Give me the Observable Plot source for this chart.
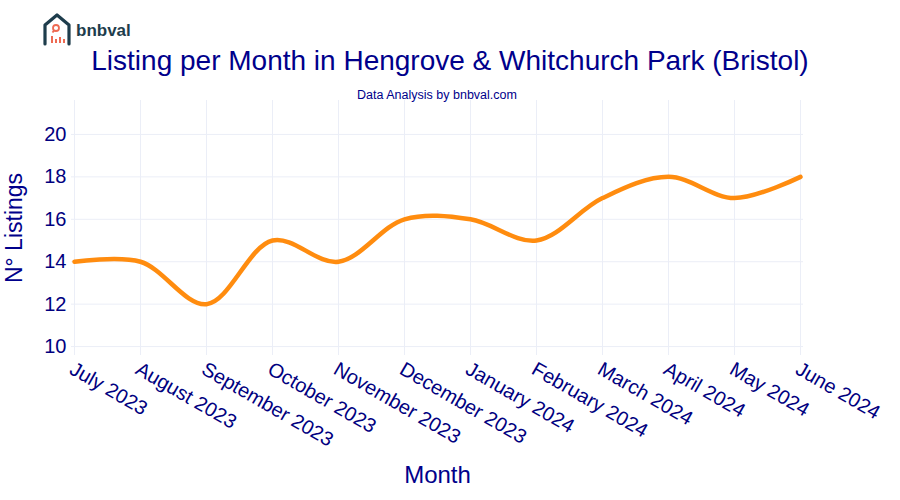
<!DOCTYPE html>
<html>
<head>
<meta charset="utf-8">
<script src="https://cdn.jsdelivr.net/npm/d3@7"></script>
<script src="https://cdn.jsdelivr.net/npm/@observablehq/plot@0.6"></script>
<style>
  body { margin: 0; background: #fff; font-family: "Liberation Sans", Arial, sans-serif; }
  #wrap { position: relative; width: 900px; height: 500px; }
  .abs { position: absolute; white-space: nowrap; color: #00008b; }
</style>
</head>
<body>
<div id="wrap">
  <div id="chart"></div>
  <svg class="abs" style="left:42px;top:12px" width="32" height="34" viewBox="0 0 32 34">
    <path d="M3 32 V13 L15 3 L27 13 V32" fill="none" stroke="#1e3d4c" stroke-width="3.2" stroke-linejoin="round" stroke-linecap="round"/>
    <circle cx="14" cy="16" r="3" fill="none" stroke="#ee6a52" stroke-width="1.8"/>
    <line x1="12" y1="18.5" x2="10.5" y2="20.5" stroke="#ee6a52" stroke-width="1.8"/>
    <rect x="9" y="24" width="2" height="7" fill="#ee6a52"/>
    <rect x="13" y="27" width="2" height="4" fill="#ee6a52"/>
    <rect x="17" y="25" width="2" height="6" fill="#ee6a52"/>
    <rect x="21" y="27" width="2" height="4" fill="#ee6a52"/>
  </svg>
  <div class="abs" style="left:76px;top:21px;font-size:17px;font-weight:bold;color:#1e3d4c;">bnbval</div>
  <div class="abs" style="left:0;width:900px;text-align:center;top:45px;font-size:28px;">Listing per Month in Hengrove &amp; Whitchurch Park (Bristol)</div>
  <div class="abs" style="left:71px;width:732px;text-align:center;top:88px;font-size:12.5px;">Data Analysis by bnbval.com</div>
</div>
<script>
const months = ["July 2023","August 2023","September 2023","October 2023","November 2023","December 2023","January 2024","February 2024","March 2024","April 2024","May 2024","June 2024"];
const listings = [14, 14, 12, 15, 14, 16, 16, 15, 17, 18, 17, 18];
const yTicks = [10, 12, 14, 16, 18, 20];

const data = months.map((m, i) => ({month: m, value: listings[i]}));
const navy = "#000080";
const grid = "#ebeef7";

const chart = Plot.plot({
  width: 900,
  height: 500,
  marginLeft: 71,
  marginRight: 97,
  marginTop: 100,
  marginBottom: 145,
  style: {fontFamily: '"Liberation Sans", Arial, sans-serif', color: navy, background: "transparent"},
  x: {type: "point", domain: months, padding: 0, label: null},
  y: {domain: [9.58, 21.6], label: null},
  marks: [
    Plot.gridX(months, {stroke: grid, strokeOpacity: 1, strokeWidth: 1}),
    Plot.gridY(yTicks, {stroke: grid, strokeOpacity: 1, strokeWidth: 1}),
    Plot.axisY(yTicks, {tickSize: 0, tickPadding: 5, fontSize: 20, fill: navy, label: null}),
    Plot.axisX(months, {tickSize: 0, tickPadding: 12, dx: -3, tickRotate: 30, fontSize: 20, fill: navy, label: null}),
    Plot.line(data, {x: "month", y: "value", stroke: "#ff8c0f", strokeWidth: 4.5, curve: "catmull-rom"}),
    Plot.text(["Month"], {frameAnchor: "bottom", dy: 127, fontSize: 24, fill: "#00008b"}),
    Plot.text(["N° Listings"], {frameAnchor: "left", textAnchor: "middle", dx: -57, rotate: -90, fontSize: 23, fill: "#00008b"})
  ]
});
document.getElementById("chart").appendChild(chart);
</script>
</body>
</html>
